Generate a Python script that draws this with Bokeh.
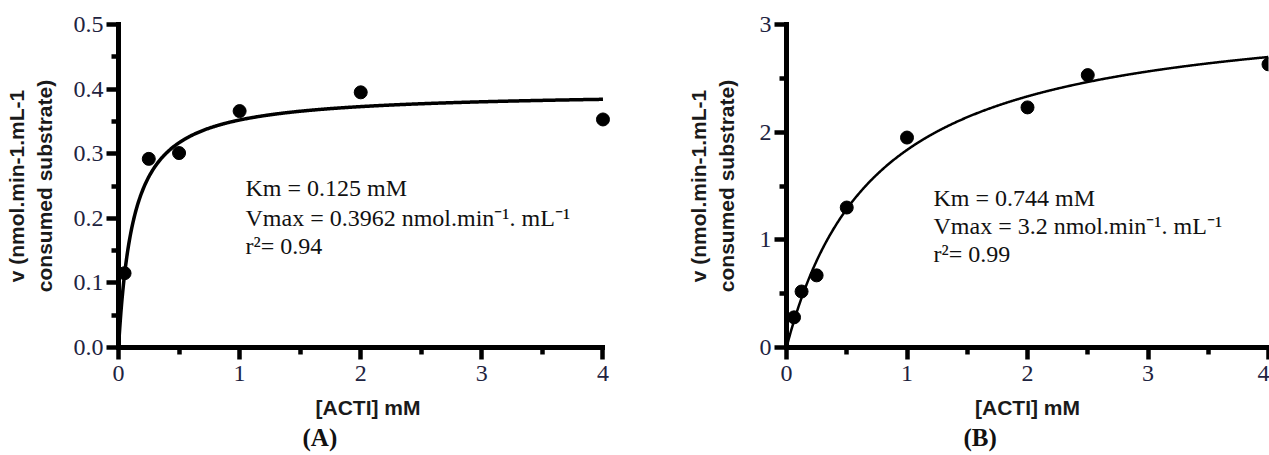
import numpy as np
from bokeh.plotting import figure
from bokeh.models import Range1d, Label, FixedTicker, Title
from bokeh.layouts import row
from bokeh.embed import file_html
from bokeh.resources import INLINE

# ---------------- data ----------------
# Panel A
a_conc = [0.05, 0.25, 0.5, 1.0, 2.0, 4.0]
a_rate = [0.115, 0.292, 0.301, 0.366, 0.395, 0.353]
a_km = 0.125
a_vmax = 0.3962
a_text = ["Km = 0.125 mM", "Vmax = 0.3962 nmol.min\u207b\u00b9. mL\u207b\u00b9", "r\u00b2= 0.94"]

# Panel B
b_conc = [0.0625, 0.125, 0.25, 0.5, 1.0, 2.0, 2.5, 4.0]
b_rate = [0.28, 0.52, 0.67, 1.30, 1.95, 2.23, 2.53, 2.63]
b_km = 0.744
b_vmax = 3.2
b_text = ["Km = 0.744 mM", "Vmax = 3.2 nmol.min\u207b\u00b9. mL\u207b\u00b9", "r\u00b2= 0.99"]

# ticks
x_ticks = [0, 1, 2, 3, 4]
x_tick_labels = ["0", "1", "2", "3", "4"]
x_minor = [0.5, 1.5, 2.5, 3.5]
a_y_ticks = [0.0, 0.1, 0.2, 0.3, 0.4, 0.5]
a_y_tick_labels = ["0.0", "0.1", "0.2", "0.3", "0.4", "0.5"]
a_y_minor = [0.05, 0.15, 0.25, 0.35, 0.45]
b_y_ticks = [0, 1, 2, 3]
b_y_tick_labels = ["0", "1", "2", "3"]
b_y_minor = [0.5, 1.5, 2.5]

x_label = "[ACTI] mM"
y_label = "v (nmol.min-1.mL-1\nconsumed substrate)"

TICK_COLOR = "#1e2340"


def mm_fit(km, vmax, xmax):
    s = np.linspace(0, xmax, 801)
    return s, vmax * s / (km + s)


def make_panel(width, border_left, border_right, x_end, y_end,
               y_ticks, y_tick_labels, y_minor, conc, rate, km, vmax,
               text_lines, text_x, text_ys, caption, caption_offset, curve_w,
               ylabel_standoff):
    p = figure(width=width, height=455,
               x_range=Range1d(0, x_end), y_range=Range1d(0, y_end),
               output_backend="svg", toolbar_location=None,
               min_border_left=border_left, min_border_right=border_right,
               min_border_top=24, min_border_bottom=108)
    p.outline_line_color = None
    p.grid.visible = False
    p.background_fill_color = "white"
    p.border_fill_color = "white"

    p.xaxis.ticker = FixedTicker(ticks=x_ticks, minor_ticks=x_minor)
    p.xaxis.major_label_overrides = {t: l for t, l in zip(x_ticks, x_tick_labels)}
    p.xaxis.bounds = (0, 4)
    p.yaxis.ticker = FixedTicker(ticks=y_ticks, minor_ticks=y_minor)
    p.yaxis.major_label_overrides = {t: l for t, l in zip(y_ticks, y_tick_labels)}
    p.xaxis.axis_label = x_label
    p.yaxis.axis_label = y_label

    for ax in p.axis:
        ax.axis_line_width = 5
        ax.axis_line_cap = "square"
        ax.major_tick_line_width = 4.5
        ax.minor_tick_line_width = 4.5
        ax.major_tick_out = 12
        ax.major_tick_in = 0
        ax.minor_tick_out = 7
        ax.minor_tick_in = 0
        ax.major_label_text_font = "Liberation Serif"
        ax.major_label_text_font_size = "24px"
        ax.major_label_text_color = TICK_COLOR
        ax.axis_label_text_font = "Liberation Sans"
        ax.axis_label_text_font_style = "bold"
        ax.axis_label_text_font_size = "21px"
        ax.axis_label_text_color = "#1a1a1a"
    p.xaxis.major_label_standoff = 6
    p.yaxis.major_label_standoff = 3
    p.xaxis.axis_label_standoff = 12
    p.yaxis.axis_label_standoff = ylabel_standoff

    sx, sv = mm_fit(km, vmax, 4)
    p.line(sx, sv, line_width=curve_w, color="black")
    p.scatter(conc, rate, size=13, marker="circle", color="black")

    for line, ty in zip(text_lines, text_ys):
        p.add_layout(Label(x=text_x, y=ty, x_units="screen", y_units="screen",
                           text=line, text_font="Liberation Serif",
                           text_font_size="24px", text_color="#111111",
                           text_baseline="middle", text_align="left"))
    p.add_layout(Title(text=caption, align="left", offset=caption_offset,
                       text_font="Liberation Serif", text_font_size="25px",
                       text_font_style="bold", text_color="#111111",
                       standoff=0), "below")
    return p


pa = make_panel(640, 118, 23, 4.12, 0.5, a_y_ticks, a_y_tick_labels, a_y_minor,
                a_conc, a_rate, a_km, a_vmax, a_text, 127, [160, 130, 101.7],
                "(A)", 184, 3.5, 15)
pb = make_panel(629, 146, 1, 4.0, 3.0, b_y_ticks, b_y_tick_labels, b_y_minor,
                b_conc, b_rate, b_km, b_vmax, b_text, 147, [150, 121.7, 93.7],
                "(B)", 177, 2.5, 19)

layout = row(pa, pb)
open("out.html", "w").write(file_html(layout, INLINE))
